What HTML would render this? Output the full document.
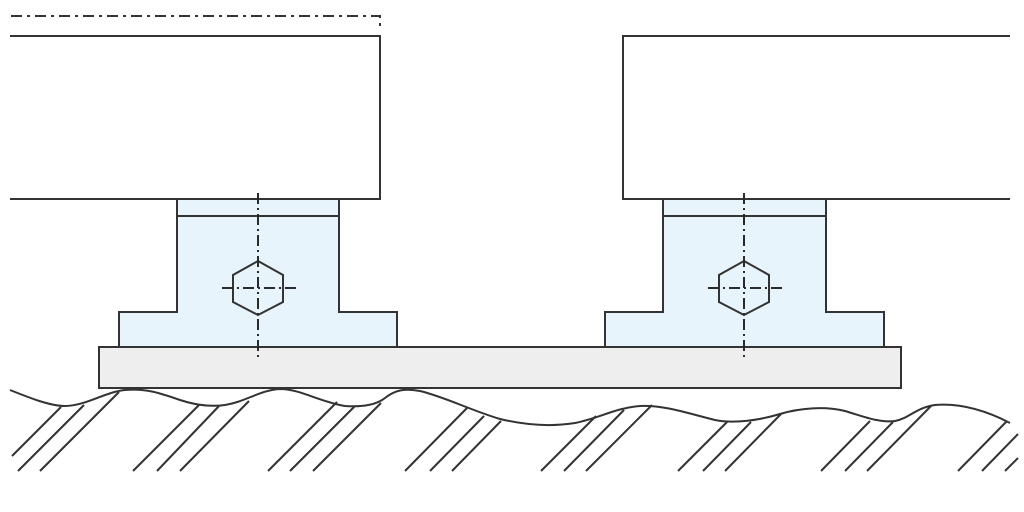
<!DOCTYPE html>
<html><head><style>html,body{margin:0;padding:0;background:#fff}svg{display:block}</style></head>
<body>
<svg width="1024" height="512" viewBox="0 0 1024 512" xmlns="http://www.w3.org/2000/svg" fill="none" stroke="#333" stroke-width="2">
<path d="M11 16H380V26" stroke-dasharray="11 5 3 5"/>
<path d="M10 36H380V199H10" fill="#fff"/>
<path d="M1010 36H623V199H1010" fill="#fff"/>
<path d="M177 199H339V312H397V347H119V312H177Z" fill="#e8f4fc"/>
<line x1="177" y1="216" x2="339" y2="216"/>
<path d="M663 199H826V312H884V347H605V312H663Z" fill="#e8f4fc"/>
<line x1="663" y1="216" x2="826" y2="216"/>
<rect x="99" y="347" width="802" height="41" fill="#eeeeee"/>
<polygon points="258,261 283,275 283,302 258,315 233,302 233,275"/>
<polygon points="744,261 769,275 769,302 744,315 719,302 719,275"/>
<g stroke-width="2" stroke="#2a2a2a" stroke-dasharray="11 4 2 4">
<line x1="258" y1="193" x2="258" y2="358"/>
<line x1="222" y1="288" x2="296" y2="288"/>
<line x1="744" y1="193" x2="744" y2="358"/>
<line x1="708" y1="288" x2="782" y2="288"/>
</g>
<path stroke-linejoin="round" d="M10 390 C30 398 50 406 65 406 C85 406 105 392 125 390 C145 388 160 393 180 400 C195 405 210 407 225 405 C245 402 260 390 280 389 C300 389 320 402 345 406 C360 407 375 406 385 398 C395 390 405 388 420 391 C445 397 470 410 500 419 C525 425 550 427 575 423 C600 418 615 408 640 406 C665 405 690 414 715 420 C735 424 760 420 780 414 C800 408 825 406 845 411 C865 417 880 423 895 421 C910 418 915 408 935 405 C960 403 985 410 1010 423"/>
<g>
<line x1="12" y1="456" x2="61" y2="407"/>
<line x1="18" y1="471" x2="84" y2="405"/>
<line x1="40" y1="471" x2="119" y2="392"/>
<line x1="133" y1="471" x2="199" y2="405"/>
<line x1="157" y1="471" x2="219" y2="406"/>
<line x1="180" y1="471" x2="249" y2="401"/>
<line x1="268" y1="471" x2="337" y2="402"/>
<line x1="290" y1="471" x2="355" y2="406"/>
<line x1="313" y1="471" x2="381" y2="403"/>
<line x1="405" y1="471" x2="467" y2="408"/>
<line x1="430" y1="471" x2="484" y2="416"/>
<line x1="452" y1="471" x2="501" y2="421"/>
<line x1="541" y1="471" x2="596" y2="416"/>
<line x1="564" y1="471" x2="624" y2="410"/>
<line x1="586" y1="471" x2="652" y2="405"/>
<line x1="678" y1="471" x2="728" y2="421"/>
<line x1="703" y1="471" x2="751" y2="422"/>
<line x1="725" y1="471" x2="781" y2="414"/>
<line x1="821" y1="471" x2="870" y2="421"/>
<line x1="845" y1="471" x2="893" y2="422"/>
<line x1="867" y1="471" x2="931" y2="406"/>
<line x1="958" y1="471" x2="1007" y2="421"/>
<line x1="982" y1="471" x2="1018" y2="434"/>
<line x1="1005" y1="471" x2="1018" y2="458"/>
</g>
</svg>
</body></html>
